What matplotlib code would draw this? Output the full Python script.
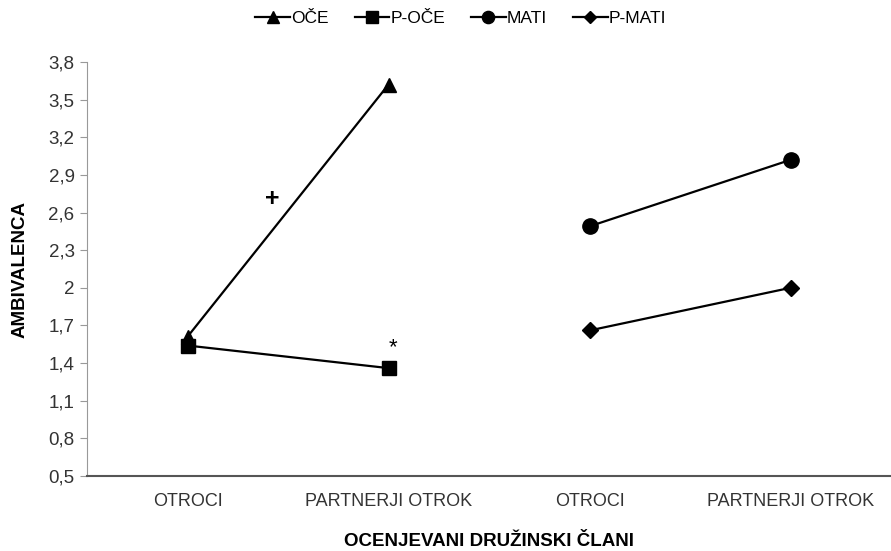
import matplotlib.pyplot as plt

plt.rcParams['font.family'] = ['Liberation Sans', 'DejaVu Sans']

categories = ["OTROCI", "PARTNERJI OTROK", "OTROCI", "PARTNERJI OTROK"]
oce = [1.61, 3.62]
p_oce = [1.54, 1.36]
mati = [2.49, 3.02]
p_mati = [1.66, 2.0]
yticks = [0.5, 0.8, 1.1, 1.4, 1.7, 2.0, 2.3, 2.6, 2.9, 3.2, 3.5, 3.8]
ytick_labels = ["0,5", "0,8", "1,1", "1,4", "1,7", "2", "2,3", "2,6", "2,9", "3,2", "3,5", "3,8"]

fig = plt.figure(figsize=(8.91, 5.51), dpi=100)
ax = fig.add_axes([87 / 891, 75 / 551, 804 / 891, 414 / 551])

ax.plot([1, 2], oce, color="black", lw=1.6, marker="^", ms=10, label="OČE")
ax.plot([1, 2], p_oce, color="black", lw=1.6, marker="s", ms=10, label="P-OČE")
ax.plot([3, 4], mati, color="black", lw=1.6, marker="o", ms=11, label="MATI")
ax.plot([3, 4], p_mati, color="black", lw=1.6, marker="D", ms=8, label="P-MATI")

ax.text(1.42, 2.71, "+", fontsize=18, fontweight="bold", ha="center", va="center")
ax.text(2.02, 1.52, "*", fontsize=16, ha="center", va="center")

ax.set_xlim(0.5, 4.5)
ax.set_ylim(0.5, 3.8)
ax.set_xticks([1, 2, 3, 4])
ax.set_xticklabels(categories, fontsize=13, color="#333333")
ax.set_yticks(yticks)
ax.set_yticklabels(ytick_labels, fontsize=13.5, color="#333333")
ax.tick_params(axis="x", length=0, pad=12)
ax.tick_params(axis="y", length=5, color="#999999", pad=4)

for s in ["top", "right"]:
    ax.spines[s].set_visible(False)
ax.spines["left"].set_color("#999999")
ax.spines["bottom"].set_color("#555555")
ax.spines["bottom"].set_linewidth(1.5)

ax.set_ylabel("AMBIVALENCA", fontsize=13.5, fontweight="bold", labelpad=14)
ax.set_xlabel("OCENJEVANI DRUŽINSKI ČLANI", fontsize=13.5, fontweight="bold", labelpad=17)

fig.legend(loc="upper center", bbox_to_anchor=(0.517, 1.008), ncol=4, frameon=False,
           fontsize=12.5, handlelength=2.0, handletextpad=0.05, columnspacing=1.5,
           markerscale=0.8)

fig.savefig("out.png", dpi=100)
